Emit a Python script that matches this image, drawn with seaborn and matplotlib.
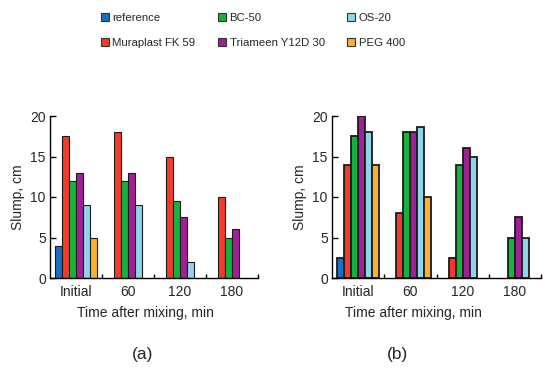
import numpy as np
import pandas as pd
import matplotlib
matplotlib.use("Agg")
import matplotlib.pyplot as plt
import seaborn as sns
from matplotlib.patches import Patch

times = ["Initial", "60", "120", "180"]
admixtures = ["reference", "Muraplast FK 59", "BC-50", "Triameen Y12D 30", "OS-20", "PEG 400"]
colors = ["#1a6fc4", "#f23b2a", "#14b33f", "#9e2296", "#8fd4ea", "#fbb12e"]

# panel (a)
a_reference = [4, np.nan, np.nan, np.nan]
a_muraplast = [17.5, 18, 15, 10]
a_bc50 = [12, 12, 9.5, 5]
a_triameen = [13, 13, 7.5, 6]
a_os20 = [9, 9, 2, np.nan]
a_peg400 = [5, np.nan, np.nan, np.nan]

# panel (b)
b_reference = [2.5, np.nan, np.nan, np.nan]
b_muraplast = [14, 8, 2.5, np.nan]
b_bc50 = [17.5, 18, 14, 5]
b_triameen = [20, 18, 16, 7.5]
b_os20 = [18, 18.7, 15, 5]
b_peg400 = [14, 10, np.nan, np.nan]


def long_table(series):
    rows = []
    for name, vals in zip(admixtures, series):
        for t, v in zip(times, vals):
            rows.append({"time": t, "admixture": name, "slump": v})
    return pd.DataFrame(rows).dropna()


df_a = long_table([a_reference, a_muraplast, a_bc50, a_triameen, a_os20, a_peg400])
df_b = long_table([b_reference, b_muraplast, b_bc50, b_triameen, b_os20, b_peg400])

sns.set_style("ticks")
plt.rcParams["font.family"] = ["Liberation Sans", "DejaVu Sans"]
plt.rcParams["font.size"] = 10

W, H = 550, 368
fig = plt.figure(figsize=(5.5, 3.68), dpi=100)
pal = dict(zip(admixtures, colors))

# data frame, axes left px, axes width px, bar edge width, xlabel x, tag x, tag
panels = [
    (df_a, 50, 208, 0.8, 145, 143, "(a)"),
    (df_b, 332, 209, 1.3, 413, 397, "(b)"),
]
for df, x0, w, lw, xl_x, tag_x, tag in panels:
    ax = fig.add_axes([x0 / W, 1 - 278 / H, w / W, 162 / H])
    sns.barplot(data=df, x="time", y="slump", hue="admixture", order=times,
                hue_order=admixtures, palette=pal, saturation=1, width=0.8,
                edgecolor="#1a1a1a", linewidth=lw, legend=False, ax=ax)
    ax.set_xlim(-0.5, 3.5)
    ax.set_ylim(0, 20)
    ax.set_yticks([0, 5, 10, 15, 20])
    ax.set_xticks(range(4))
    ax.set_xticklabels(times)
    ax.set_xticks([0.5, 1.5, 2.5, 3.5], minor=True)
    ax.tick_params(axis="x", which="major", length=0, pad=5, labelsize=10)
    ax.tick_params(axis="x", which="minor", direction="in", length=3, width=1, color="black")
    ax.tick_params(axis="y", direction="in", length=4, width=1, color="black", labelsize=10, pad=3)
    for s in ["top", "right"]:
        ax.spines[s].set_visible(False)
    for s in ["left", "bottom"]:
        ax.spines[s].set_color("black")
        ax.spines[s].set_linewidth(1.0)
    ax.set_xlabel("")
    ax.set_ylabel("Slump, cm", fontsize=10)
    ax.yaxis.set_label_coords(-25 / w, 0.5)
    fig.text(xl_x / W, 1 - 313 / H, "Time after mixing, min", ha="center", va="center", fontsize=10)
    fig.text(tag_x / W, 1 - 355 / H, tag, ha="center", va="center", fontsize=12.5)

handles = [Patch(facecolor=c, edgecolor="#333333", linewidth=0.8) for c in colors]
fig.legend(handles, admixtures, ncol=3, loc="center", bbox_to_anchor=(253 / W, 1 - 30.5 / H),
           frameon=False, fontsize=8.2, handlelength=0.7, handleheight=0.7,
           handletextpad=0.3, columnspacing=2.0, labelspacing=1.25)

fig.savefig("out.png", dpi=100)
